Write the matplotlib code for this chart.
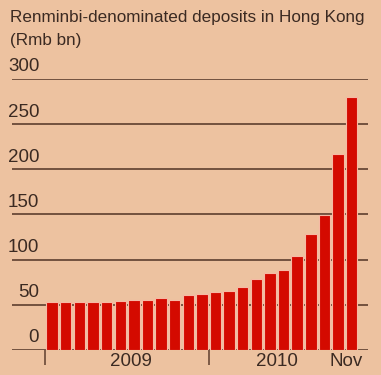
import matplotlib
matplotlib.use("Agg")
import matplotlib.pyplot as plt

BG = "#edc2a0"
RED = "#d40a00"
EDGE = "#f7b9a4"
INK = "#3b2a22"
LINE = "#5e3e2e"
plt.rcParams["font.family"] = ["Liberation Sans", "DejaVu Sans"]

# monthly, Jan 2009 .. Nov 2010
months = list(range(23))
deposits = [53.1, 53.3, 53.4, 53.5, 53.6, 53.7, 55.7, 55.9, 57.3, 55.8, 60.5, 62.5,
            63.8, 65.5, 70.2, 78.8, 85.0, 88.5, 103.7, 128.8, 149.2, 216.9, 279.6]
yticks = [0, 50, 100, 150, 200, 250, 300]
year_pos = [5.8, 16.5, 21.6]
year_labels = ["2009", "2010", "Nov"]

fig = plt.figure(figsize=(3.81, 3.75), dpi=100, facecolor=BG)
ax = fig.add_axes([12 / 381, 25 / 375, 356 / 381, 271 / 375])
ax.set_facecolor(BG)
ax.set_xlim(-2.95, 23.2)
ax.set_ylim(0, 300)

for v in yticks:
    ax.axhline(v, color=LINE, lw=1.2, zorder=1)
    ax.text(-0.95, v + 4, str(v), ha="right", va="bottom", fontsize=13.5, color=INK)

ax.bar(months, deposits, width=0.84, color=RED, edgecolor=EDGE, lw=0.8, zorder=2)

for s in ax.spines.values():
    s.set_visible(False)
ax.set_yticks([])
ax.set_xticks([-0.5, 11.5], labels=["", ""])
ax.tick_params(axis="x", which="major", length=11, width=1.1, color=LINE)
ax.set_xticks(year_pos, labels=year_labels, minor=True)
ax.tick_params(axis="x", which="minor", length=0, pad=2.5, labelsize=13.5, labelcolor=INK)

fig.text(10 / 381, 1 - 22 / 375, "Renminbi-denominated deposits in Hong Kong",
         fontsize=12.3, color=INK, ha="left", va="baseline")
fig.text(10 / 381, 1 - 45 / 375, "(Rmb bn)", fontsize=12.3, color=INK,
         ha="left", va="baseline")

fig.savefig("out.png", dpi=100, facecolor=BG)
